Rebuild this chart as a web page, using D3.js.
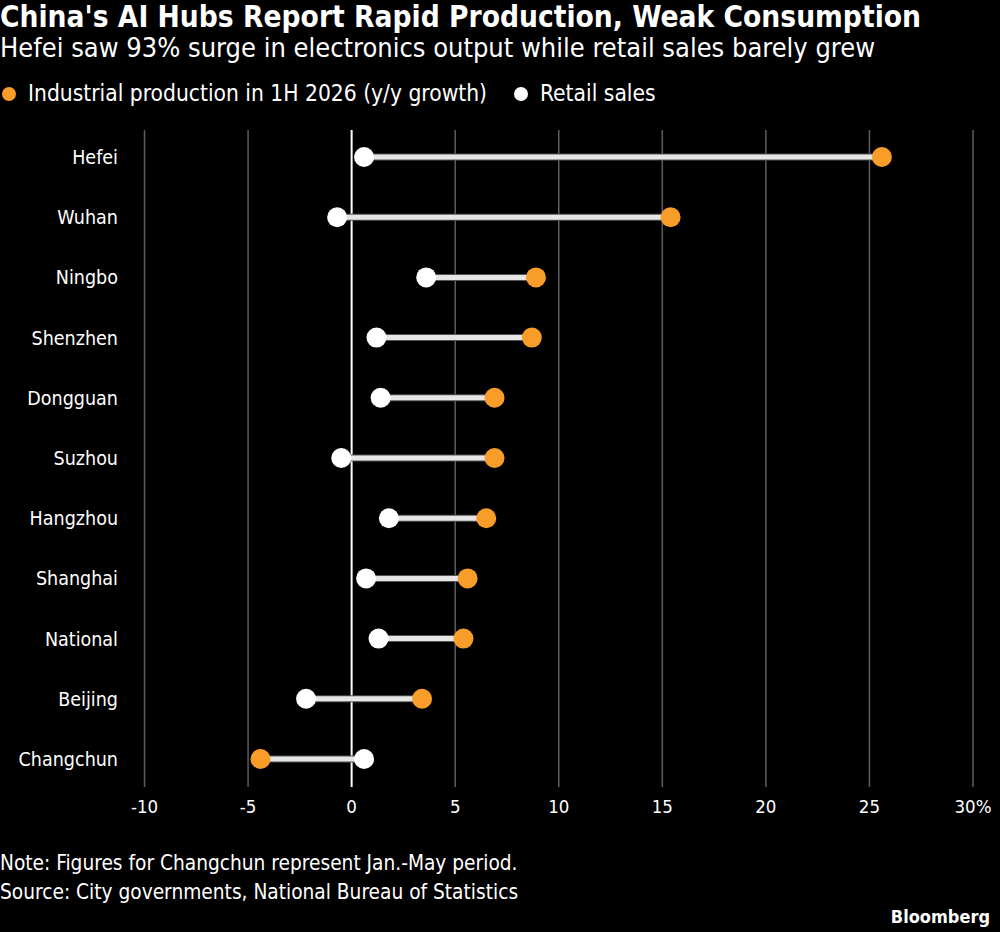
<!DOCTYPE html>
<html>
<head>
<meta charset="utf-8">
<script src="https://cdn.jsdelivr.net/npm/d3@7"></script>
<style>
  body { margin: 0; background: #000; }
  svg { display: block; font-family: "DejaVu Sans Condensed", "DejaVu Sans", sans-serif; }
</style>
</head>
<body>
<svg id="chart" width="1000" height="932"></svg>
<script>
// data
const cities = ['Hefei', 'Wuhan', 'Ningbo', 'Shenzhen', 'Dongguan', 'Suzhou',
  'Hangzhou', 'Shanghai', 'National', 'Beijing', 'Changchun'];
const production = [25.6, 15.4, 8.9, 8.7, 6.9, 6.9, 6.5, 5.6, 5.4, 3.4, -4.4];
const retail = [0.6, -0.7, 3.6, 1.2, 1.4, -0.5, 1.8, 0.7, 1.3, -2.2, 0.6];
const xTicks = [-10, -5, 0, 5, 10, 15, 20, 25, 30];

const orange = '#f99d2a';
const svg = d3.select('#chart');
const width = 1000, height = 932;

svg.append('rect').attr('width', width).attr('height', height).attr('fill', '#000');

// titles
svg.append('text').attr('x', 0).attr('y', 27)
  .attr('fill', '#fff').attr('font-size', 29.6).attr('font-weight', 'bold')
  .text("China's AI Hubs Report Rapid Production, Weak Consumption");
svg.append('text').attr('x', 0).attr('y', 57)
  .attr('fill', '#fff').attr('font-size', 27)
  .text('Hefei saw 93% surge in electronics output while retail sales barely grew');

// legend
let legend = svg.append('g').attr('class', 'legend');
legend.append('circle').attr('cx', 9).attr('cy', 94).attr('r', 7).attr('fill', orange);
legend.append('text').attr('x', 28).attr('y', 101).attr('fill', '#fff').attr('font-size', 22.6)
  .text('Industrial production in 1H 2026 (y/y growth)');
legend.append('circle').attr('cx', 521).attr('cy', 94).attr('r', 7).attr('fill', '#fff');
legend.append('text').attr('x', 540).attr('y', 101).attr('fill', '#fff').attr('font-size', 22.6)
  .text('Retail sales');

const x = d3.scaleLinear().domain([-10, 30]).range([144.5, 973]);
const y = d3.scalePoint().domain(cities).range([157, 759]);
const gridTop = 130, gridBottom = 787;

// grid
svg.append('g').selectAll('line').data(xTicks).enter().append('line')
  .attr('x1', d => x(d)).attr('x2', d => x(d))
  .attr('y1', gridTop).attr('y2', gridBottom)
  .attr('stroke', d => d === 0 ? '#fff' : '#5e5e5e')
  .attr('stroke-width', d => d === 0 ? 2 : 1.5);

// axis labels
svg.append('g').selectAll('text').data(xTicks).enter().append('text')
  .attr('x', d => x(d)).attr('y', 813)
  .attr('text-anchor', 'middle').attr('fill', '#fff').attr('font-size', 18.5)
  .text(d => d === 30 ? d + '%' : d);

// city labels
svg.append('g').selectAll('text').data(cities).enter().append('text')
  .attr('x', 118).attr('y', d => y(d) + 7)
  .attr('text-anchor', 'end').attr('fill', '#fff').attr('font-size', 19.5)
  .text(d => d);

// rows
let rows = svg.append('g').selectAll('g').data(cities).enter().append('g')
  .each(function(d, i) {
    let g = d3.select(this);
    let yy = y(d);
    g.append('line')
      .attr('x1', x(retail[i])).attr('x2', x(production[i]))
      .attr('y1', yy).attr('y2', yy)
      .attr('stroke', '#555').attr('stroke-width', 7);
    g.append('line')
      .attr('x1', x(retail[i])).attr('x2', x(production[i]))
      .attr('y1', yy).attr('y2', yy)
      .attr('stroke', '#e6e6e6').attr('stroke-width', 5);
    g.append('circle').attr('cx', x(retail[i])).attr('cy', yy).attr('r', 10).attr('fill', '#fff');
    g.append('circle').attr('cx', x(production[i])).attr('cy', yy).attr('r', 10).attr('fill', orange);
  });

// footer
svg.append('text').attr('x', 0).attr('y', 870).attr('fill', '#fff').attr('font-size', 20.7)
  .text('Note: Figures for Changchun represent Jan.-May period.');
svg.append('text').attr('x', 0).attr('y', 899).attr('fill', '#fff').attr('font-size', 20.7)
  .text('Source: City governments, National Bureau of Statistics');
svg.append('text').attr('x', 990).attr('y', 923).attr('text-anchor', 'end')
  .attr('fill', '#fff').attr('font-size', 18).attr('font-weight', 'bold')
  .text('Bloomberg');
</script>
</body>
</html>
